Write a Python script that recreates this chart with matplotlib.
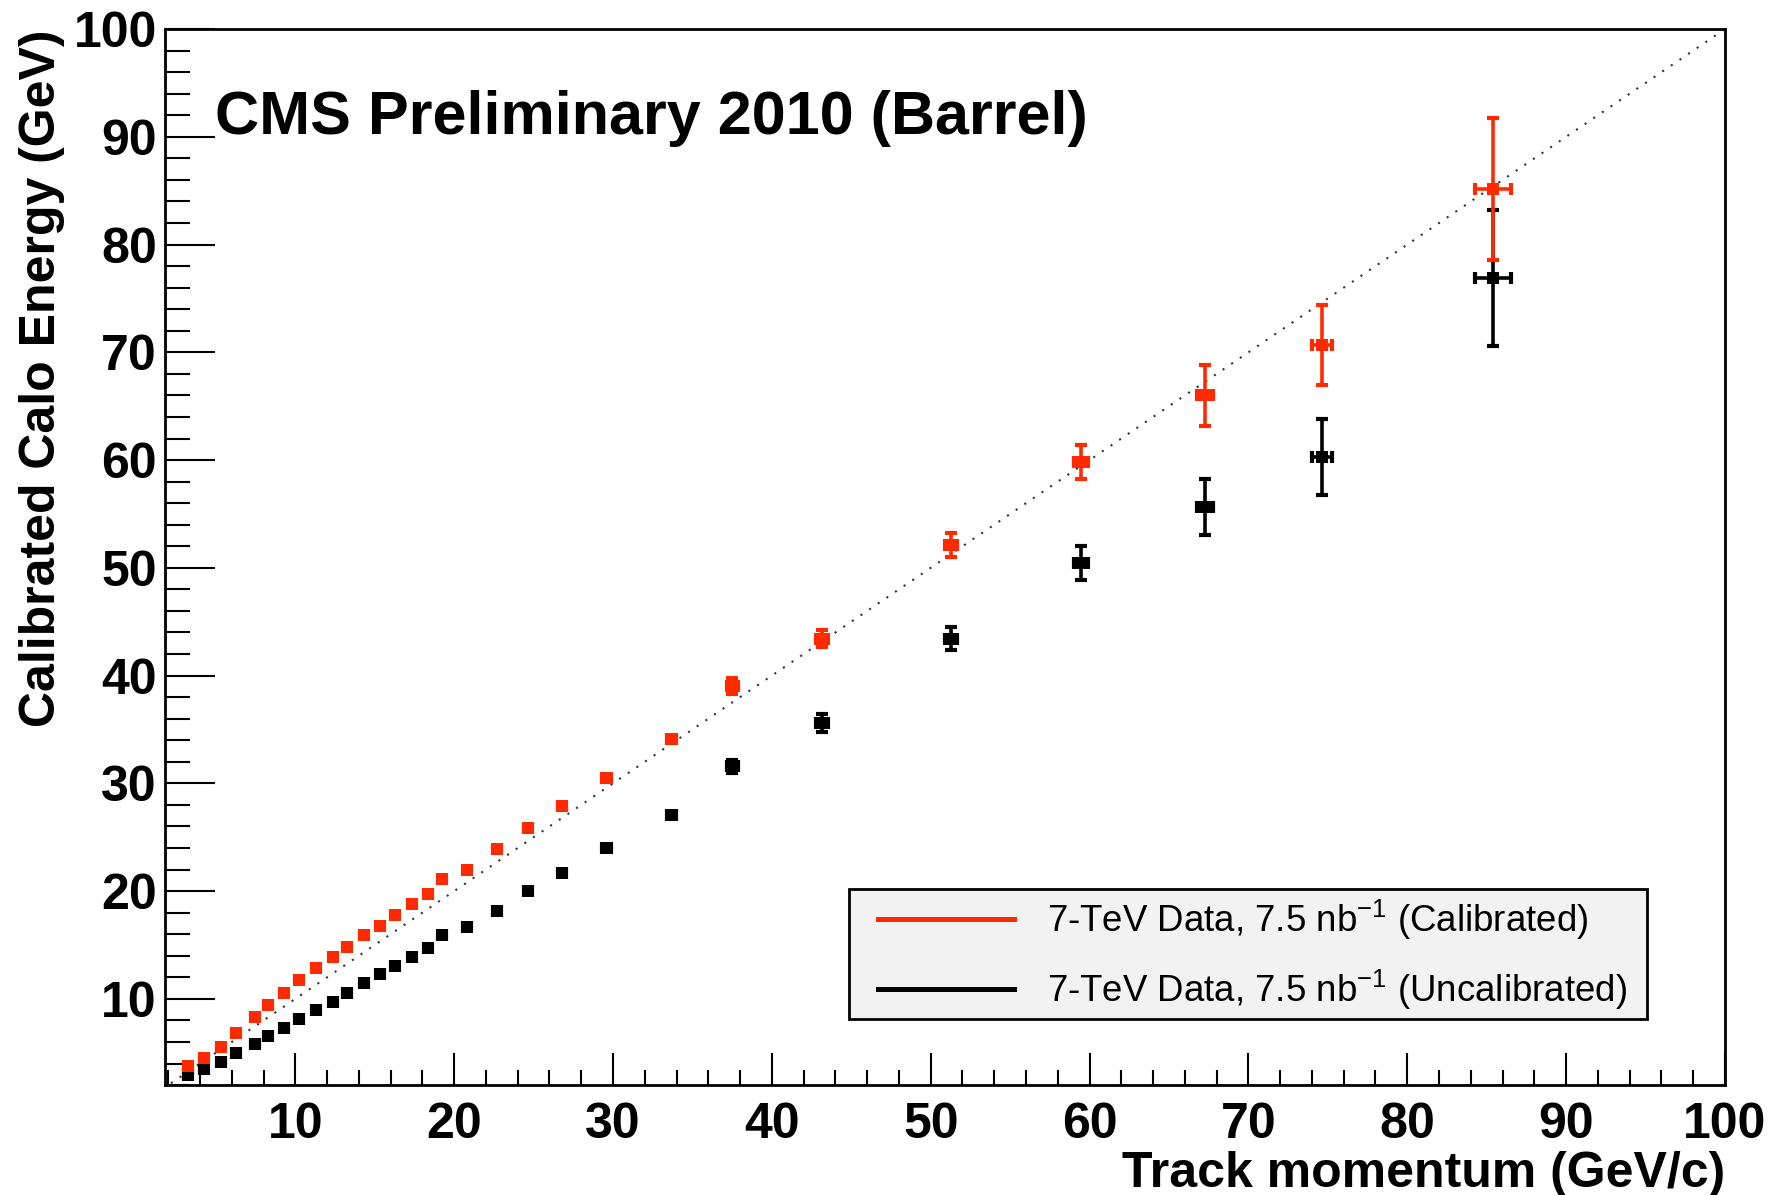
import matplotlib
matplotlib.use("Agg")
import matplotlib.pyplot as plt
from matplotlib.lines import Line2D
from matplotlib.patches import Rectangle
from matplotlib.ticker import MultipleLocator

# ---- data ----
momentum = [3.23, 4.27, 5.30, 6.27, 7.46, 8.30, 9.28, 10.25, 11.30, 12.35,
            13.23, 14.32, 15.32, 16.27, 17.32, 18.36, 19.24, 20.78, 22.72, 24.65,
            26.81, 29.58, 33.67, 37.50, 43.16, 51.28, 59.45, 67.27, 74.65, 85.40]
momentum_err = [0.25] * 21 + [0.3, 0.3, 0.35, 0.35, 0.37, 0.45, 0.5, 0.63, 1.15]

calibrated = [3.79, 4.53, 5.55, 6.85, 8.34, 9.42, 10.51, 11.74, 12.83, 13.90,
              14.83, 15.91, 16.75, 17.77, 18.79, 19.72, 21.08, 21.94, 23.89, 25.81,
              27.88, 30.45, 34.07, 39.01, 43.44, 52.09, 59.82, 66.00, 70.65, 85.18]
calibrated_err = [0.15] * 14 + [0.2] * 5 + [0.25, 0.25, 0.3, 0.35, 0.75, 0.8,
                                            1.1, 1.6, 2.8, 3.7, 6.6]

uncalibrated = [2.93, 3.46, 4.16, 5.00, 5.78, 6.55, 7.32, 8.09, 8.96, 9.73,
                10.51, 11.49, 12.30, 13.07, 13.90, 14.68, 15.91, 16.68, 18.17, 20.02,
                21.64, 24.00, 27.05, 31.59, 35.61, 43.44, 50.45, 55.65, 60.30, 76.93]
uncalibrated_err = [0.12] * 14 + [0.15] * 5 + [0.2, 0.2, 0.25, 0.3, 0.6, 0.8,
                                              1.1, 1.6, 2.6, 3.5, 6.3]

x_range = (1.8, 100)
y_range = (2, 100)
x_ticks = [10, 20, 30, 40, 50, 60, 70, 80, 90, 100]
y_ticks = [10, 20, 30, 40, 50, 60, 70, 80, 90, 100]

title_text = "CMS Preliminary 2010 (Barrel)"
xlabel = "Track momentum (GeV/c)"
ylabel = "Calibrated Calo Energy (GeV)"
label_cal = r"7-TeV Data, 7.5 nb$^{\mathregular{-1}}$ (Calibrated)"
label_uncal = r"7-TeV Data, 7.5 nb$^{\mathregular{-1}}$ (Uncalibrated)"

RED = "#ff2a00"
plt.rcParams['font.family'] = ['Liberation Sans', 'DejaVu Sans']
plt.rcParams['mathtext.fontset'] = 'custom'
plt.rcParams['mathtext.rm'] = 'Liberation Sans'

fig = plt.figure(figsize=(17.71, 11.95), dpi=100)
ax = fig.add_axes([0.0932, 0.092, 0.974 - 0.0932, 0.9757 - 0.092])

# diagonal reference line y = x
ax.plot([0, 100], [0, 100], color="#333333", lw=1.5,
        linestyle=(0, (1, 4)), zorder=1)

common = dict(fmt='s', ms=8, capsize=4, capthick=3.0, elinewidth=2.6, zorder=3)
for yv, ye, col in [(uncalibrated, uncalibrated_err, "black"),
                    (calibrated, calibrated_err, RED)]:
    cont = ax.errorbar(momentum, yv, yerr=ye, xerr=momentum_err,
                       color=col, ecolor=col, **common)
    cont.lines[0].set_markeredgewidth(0)

ax.set_xlim(*x_range)
ax.set_ylim(*y_range)
ax.set_xticks(x_ticks)
ax.set_yticks(y_ticks)
ax.xaxis.set_minor_locator(MultipleLocator(2))
ax.yaxis.set_minor_locator(MultipleLocator(2))
ax.tick_params(axis='both', which='both', direction='in', top=False, right=False,
               width=1.5, colors='black')
ax.tick_params(axis='x', which='major', length=23, pad=12)
ax.tick_params(axis='x', which='minor', length=11)
ax.tick_params(axis='y', which='major', length=36, pad=6)
ax.tick_params(axis='y', which='minor', length=18)
for lab in ax.get_xticklabels() + ax.get_yticklabels():
    lab.set_fontsize(36)
    lab.set_fontweight('bold')
for s in ax.spines.values():
    s.set_linewidth(2)

ax.set_xlabel(xlabel, fontsize=36, fontweight='bold', loc='right', labelpad=2)
ax.set_ylabel(ylabel, fontsize=36, fontweight='bold', loc='top', labelpad=6)

ax.text(0.032, 0.915, title_text, transform=ax.transAxes, fontsize=44,
        fontweight='bold', va='center', ha='left')

# legend box
ax.add_patch(Rectangle((0.4385, 0.0625), 0.5115, 0.1231, transform=ax.transAxes,
                       facecolor='#f2f2f2', edgecolor='black', linewidth=2,
                       zorder=4))
handles = [Line2D([], [], color=RED, lw=3.6),
           Line2D([], [], color='black', lw=3.6)]
leg = ax.legend(handles, [label_cal, label_uncal], loc='upper left',
                bbox_to_anchor=(0.4568, 0.1782), fontsize=26.4,
                handlelength=3.72, handletextpad=0.9, labelspacing=0.69,
                borderpad=0, borderaxespad=0, frameon=False)
leg.set_zorder(5)

fig.savefig("out.png", dpi=100)
